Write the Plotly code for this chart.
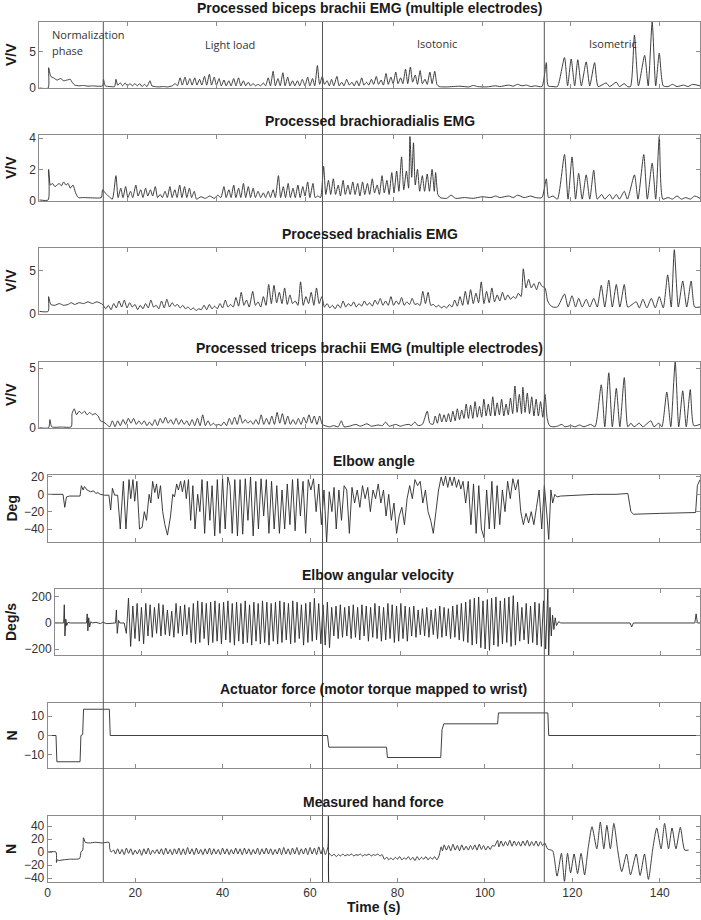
import plotly.graph_objects as go

W, H = 701, 920

# ---- data (time in s, value) ----
biceps_t = [0, 2.0, 2.1, 2.6, 3.2, 4, 4.8, 5.5, 6.3, 7, 7.4, 8, 9, 10, 11, 12, 13, 14.3, 14.5, 14.9, 16, 17, 17.3, 17.7, 18.3, 18.8, 19.4, 19.9, 20.5, 21, 21.6, 22.1, 22.7, 23.2, 23.8, 24.3, 25, 25.4, 26, 27, 28, 29, 30, 30.7, 31.2, 31.8, 32.3, 32.9, 33.4, 34, 34.5, 35.1, 35.6, 36.2, 36.7, 37.3, 37.8, 38.4, 38.9, 39.5, 40, 40.6, 41.1, 41.7, 42.2, 42.8, 43.3, 43.9, 44.4, 45, 45.5, 46.1, 46.6, 47.2, 47.7, 48.3, 48.8, 49.4, 50, 50.6, 51.1, 51.7, 52.2, 52.8, 53.3, 53.9, 54.4, 55, 55.5, 56.1, 56.6, 57.2, 57.7, 58.3, 58.8, 59.4, 60, 60.6, 61.1, 61.7, 62.2, 62.8, 63.3, 63.9, 64.4, 65, 65.5, 66, 66.5, 67.2, 67.7, 68.3, 68.8, 69.4, 70, 70.6, 71.1, 71.7, 72.2, 72.8, 73.3, 73.9, 74.4, 75, 75.5, 76.1, 76.6, 77.2, 77.7, 78.3, 78.8, 79.4, 79.9, 80.5, 81, 81.6, 82.1, 82.7, 83.2, 83.8, 84.3, 84.9, 85.4, 86, 86.5, 87.1, 87.6, 88.2, 88.7, 89.3, 89.8, 90.3, 92, 95, 97, 98, 99, 101, 103, 104, 106, 107, 108, 109, 110, 111, 112, 113.5, 114.5, 114.9, 116, 117, 118.6, 119.3, 120.1, 120.9, 121.6, 122.4, 123.5, 124.3, 125.4, 126.2, 128, 128.8, 130.3, 131, 132.1, 132.8, 133.5, 134.4, 135.3, 136.7, 137.5, 138.4, 139.2, 140.0, 140.9, 142, 143, 144, 145.5, 146.5, 147.5, 149.2]
biceps_v = [0, 0, 2.8, 1.6, 1.4, 1.1, 1.3, 1.0, 1.1, 1.2, 0.8, 0.4, 0.3, 0.35, 0.25, 0.3, 0.25, 0.3, 1.2, 0.3, 0.2, 0.2, 1.2, 0.4, 0.7, 0.3, 0.7, 0.3, 0.6, 0.3, 0.6, 0.3, 0.6, 0.2, 0.5, 0.2, 1.0, 0.3, 0.2, 0.15, 0.2, 0.15, 0.3, 0.6, 0.3, 1.4, 0.4, 1.5, 0.4, 1.3, 0.4, 1.4, 0.4, 1.2, 0.4, 1.6, 0.4, 1.9, 0.4, 1.5, 0.4, 1.3, 0.3, 1.1, 0.3, 1.0, 0.3, 1.3, 0.3, 1.4, 0.3, 1.0, 0.3, 0.8, 0.3, 0.6, 0.3, 0.5, 0.3, 0.7, 0.3, 1.4, 0.3, 2.3, 0.3, 1.3, 0.3, 2.1, 0.3, 1.5, 0.3, 1.0, 0.3, 1.0, 0.3, 1.2, 0.3, 1.5, 0.3, 1.3, 0.3, 3.1, 0.5, 1.6, 0.5, 1.0, 0.3, 1.2, 0.3, 1.6, 0.3, 0.8, 0.3, 1.2, 0.4, 0.8, 0.3, 1.0, 0.3, 1.4, 0.4, 0.8, 0.4, 1.2, 0.5, 1.6, 0.5, 1.1, 0.4, 2.0, 0.5, 1.5, 0.6, 2.2, 0.6, 1.4, 0.6, 2.6, 0.6, 2.9, 0.8, 1.8, 0.5, 2.4, 0.6, 1.2, 0.5, 2.2, 0.6, 2.3, 0.5, 0.2, 0.15, 0.25, 0.15, 0.35, 0.2, 0.15, 0.3, 0.2, 0.4, 0.25, 0.5, 0.3, 0.4, 0.2, 0.3, 0.2, 3.5, 0.3, 0.2, 0.2, 4.2, 0.3, 4.0, 0.3, 3.9, 0.3, 3.6, 0.3, 3.5, 0.2, 0.7, 0.2, 0.8, 0.2, 0.6, 0.2, 0.2, 7.3, 0.3, 4.5, 0.3, 9.1, 0.3, 4.8, 0.3, 0.2, 0.5, 0.2, 0.4, 0.2, 0.5, 0.3]

brachiorad_t = [0, 2.0, 2.1, 2.5, 3, 3.5, 4, 4.5, 5, 5.5, 6, 6.5, 7, 7.6, 8.2, 8.8, 10, 12, 14, 14.3, 15, 15.8, 16.5, 17.3, 17.8, 18.4, 18.9, 19.5, 20, 20.6, 21.1, 21.8, 22.3, 22.9, 23.4, 24, 24.5, 25.1, 25.6, 26.2, 26.7, 27.3, 27.8, 28.4, 28.9, 29.5, 30, 30.6, 31.1, 31.7, 32.2, 32.8, 33.3, 33.9, 34.4, 35, 35.5, 36.5, 37.5, 38.5, 39.5, 40.3, 41, 41.7, 42.2, 42.8, 43.3, 43.9, 44.4, 45, 45.5, 46.1, 46.6, 47.2, 47.7, 48.3, 48.8, 49.4, 50, 50.6, 51.1, 51.7, 52.2, 52.8, 53.3, 54, 54.5, 55.1, 55.6, 56.2, 56.7, 57.3, 57.8, 58.4, 58.9, 59.5, 60, 60.6, 61.1, 61.8, 62.3, 62.9, 63.5, 64.2, 64.7, 65.3, 65.8, 66.4, 66.9, 67.5, 68, 68.6, 69.1, 69.7, 70.2, 70.8, 71.3, 71.9, 72.4, 73, 73.5, 74.1, 74.6, 75.2, 75.7, 76.3, 76.8, 77.4, 77.9, 78.5, 79, 79.6, 80.1, 80.7, 81.2, 81.8, 82.3, 82.9, 83.4, 83.7, 84.1, 84.5, 84.9, 85.4, 85.9, 86.5, 87, 87.6, 88.1, 88.7, 89.2, 89.5, 90, 90.5, 92, 93, 94, 96, 98, 100, 102, 103, 104, 106, 107, 108, 109.5, 111, 112, 113.5, 114.5, 115, 116, 117, 118.6, 119.4, 120.3, 121.1, 121.8, 122.6, 123.5, 124.3, 125.2, 126, 127, 127.7, 128.8, 129.5, 130.3, 131, 132.1, 132.8, 134.4, 135.2, 136.5, 137.3, 138.4, 139.2, 140, 140.8, 142, 143, 144, 145, 146, 147, 148, 149.2]
brachiorad_v = [0.05, 0.05, 2.0, 1.0, 1.1, 0.9, 1.0, 1.1, 0.95, 1.2, 1.0, 1.1, 0.8, 1.0, 0.5, 0.2, 0.2, 0.18, 0.2, 0.7, 0.45, 0.25, 0.1, 1.6, 0.2, 0.8, 0.2, 0.9, 0.2, 0.6, 0.2, 1.0, 0.3, 0.7, 0.2, 0.8, 0.3, 0.7, 0.3, 0.9, 0.2, 0.4, 0.2, 0.6, 0.2, 0.9, 0.2, 0.7, 0.2, 1.0, 0.2, 0.9, 0.2, 0.8, 0.2, 0.6, 0.1, 0.25, 0.15, 0.3, 0.15, 0.35, 0.2, 0.9, 0.2, 0.7, 0.2, 1.0, 0.2, 0.8, 0.2, 1.1, 0.2, 0.9, 0.2, 0.8, 0.2, 0.6, 0.2, 0.5, 0.2, 0.6, 0.2, 0.7, 0.2, 1.6, 0.2, 0.9, 0.2, 1.1, 0.2, 0.8, 0.2, 1.0, 0.2, 0.9, 0.3, 1.2, 0.2, 1.1, 0.2, 0.3, 0.2, 2.2, 0.4, 1.3, 0.4, 1.4, 0.4, 1.0, 0.3, 1.3, 0.4, 1.0, 0.4, 1.2, 0.4, 1.1, 0.3, 1.2, 0.4, 1.1, 0.4, 1.4, 0.5, 1.0, 0.4, 1.6, 0.5, 1.3, 0.4, 1.8, 0.5, 1.9, 0.6, 2.8, 0.7, 1.9, 0.8, 4.1, 1.5, 3.7, 1.0, 2.0, 0.6, 1.6, 0.6, 1.7, 0.6, 2.0, 0.6, 1.8, 0.4, 0.2, 0.15, 0.35, 0.15, 0.2, 0.15, 0.25, 0.2, 0.3, 0.2, 0.3, 0.2, 0.35, 0.2, 0.3, 0.2, 0.2, 1.4, 0.2, 0.3, 0.1, 2.95, 0.1, 2.8, 0.1, 1.75, 0.1, 1.65, 0.1, 1.95, 0.1, 0.4, 0.1, 0.4, 0.1, 0.4, 0.1, 0.6, 0.1, 1.65, 0.1, 2.95, 0.1, 2.4, 0.1, 4.1, 0.1, 0.2, 0.1, 0.3, 0.1, 0.2, 0.1, 0.3, 0.15]

brachialis_t = [0, 2.0, 2.1, 2.6, 3.5, 4.5, 5.5, 6.5, 7.2, 8, 9, 10, 11, 12, 13, 14.3, 15, 15.6, 16.2, 16.8, 17.4, 18, 18.6, 19.2, 19.8, 20.4, 21, 21.6, 22.2, 22.8, 23.4, 24, 24.6, 25.2, 25.8, 26.4, 27, 27.6, 28.2, 28.8, 29.4, 30, 30.6, 31.2, 31.8, 32.4, 33, 33.6, 34.2, 34.8, 35.4, 36, 36.6, 37.2, 37.8, 38.4, 39, 39.6, 40.2, 40.8, 41.4, 42, 42.6, 43.2, 43.8, 44.4, 45, 45.6, 46.2, 46.8, 47.4, 48.2, 48.8, 49.4, 50, 50.6, 51.2, 51.8, 52.4, 53, 53.6, 54.2, 54.8, 55.4, 56, 56.6, 57.2, 57.8, 58.4, 59, 59.6, 60.2, 60.8, 61.4, 62, 62.6, 63.2, 63.8, 64.4, 65, 65.6, 66.2, 66.8, 67.4, 68, 68.6, 69.2, 69.8, 70.4, 71, 71.6, 72.2, 72.8, 73.4, 74, 74.6, 75.2, 75.8, 76.4, 77, 77.6, 78.2, 78.8, 79.4, 80, 80.6, 81.2, 81.8, 82.4, 83, 83.6, 84.2, 84.8, 85.4, 86, 86.6, 87.2, 87.8, 88.4, 89, 89.6, 90.2, 90.8, 91.4, 92, 92.6, 93.2, 93.8, 94.4, 95, 95.6, 96.2, 96.8, 97.4, 98, 98.6, 99.2, 99.8, 100.4, 101, 101.6, 102.2, 102.8, 103.4, 104, 104.6, 105.2, 105.8, 106.4, 107, 107.6, 108.2, 108.8, 109.3, 109.9, 110.5, 111.1, 111.7, 112.3, 112.9, 113.5, 114.2, 114.8, 115.4, 116, 117, 118.6, 119.4, 120.3, 121.1, 121.8, 122.6, 123.5, 124.3, 125.2, 126, 126.9, 127.7, 128.6, 129.4, 130.3, 131.1, 132.1, 132.9, 134.8, 135.5, 136.3, 137.2, 138.2, 139.1, 140, 140.9, 141.9, 142.7, 143.4, 144.3, 145.3, 146.2, 147.2, 148, 149.2]
brachialis_v = [0.3, 0.3, 2.0, 1.1, 1.0, 1.2, 1.0, 1.1, 1.3, 1.1, 1.3, 1.2, 1.4, 1.2, 1.4, 1.1, 0.6, 1.0, 0.5, 1.2, 0.7, 1.5, 0.8, 1.6, 0.7, 1.3, 0.8, 1.1, 0.5, 1.0, 0.6, 1.2, 0.7, 1.6, 0.8, 1.0, 0.6, 1.5, 0.7, 1.7, 0.8, 1.3, 0.9, 1.1, 0.7, 1.0, 0.6, 0.8, 0.5, 0.7, 0.4, 0.6, 0.5, 1.0, 0.5, 1.1, 0.6, 0.9, 0.6, 1.2, 0.7, 1.6, 0.8, 1.1, 0.8, 1.9, 0.9, 2.5, 1.0, 1.6, 0.8, 2.6, 1.0, 1.4, 0.8, 2.0, 1.0, 3.4, 1.2, 3.3, 1.3, 2.5, 1.2, 3.0, 1.1, 2.2, 1.2, 1.5, 1.0, 3.7, 1.0, 2.0, 1.2, 2.5, 1.0, 3.0, 1.2, 2.0, 0.8, 1.2, 0.7, 1.0, 0.6, 1.1, 0.7, 1.5, 0.8, 1.2, 0.9, 1.4, 0.8, 1.2, 0.9, 1.5, 1.0, 1.3, 0.9, 1.6, 1.1, 1.8, 1.0, 1.5, 1.0, 2.0, 1.0, 1.5, 1.1, 1.9, 1.0, 1.4, 1.1, 1.8, 1.1, 1.2, 1.0, 2.6, 1.2, 2.5, 1.0, 1.1, 0.8, 1.0, 0.7, 0.9, 0.7, 1.1, 0.8, 1.6, 0.9, 2.0, 1.0, 2.6, 1.1, 2.8, 1.2, 2.4, 1.3, 3.7, 1.2, 2.6, 1.3, 3.0, 1.4, 2.2, 1.5, 2.5, 1.6, 2.2, 1.7, 2.0, 1.8, 2.4, 2.0, 5.2, 3.0, 4.0, 3.0, 3.5, 2.8, 3.7, 3.2, 3.0, 1.5, 1.0, 0.8, 0.8, 2.3, 0.8, 2.1, 0.8, 1.8, 0.8, 1.7, 0.8, 1.8, 0.8, 3.3, 0.8, 3.9, 0.8, 3.4, 0.8, 3.4, 0.8, 1.4, 0.7, 1.7, 0.7, 1.8, 0.7, 2.0, 0.7, 4.5, 0.8, 7.4, 0.8, 3.8, 0.8, 3.8, 0.8, 0.8]

triceps_t = [0, 2.1, 2.4, 2.8, 5, 7.2, 7.4, 7.9, 8.4, 9, 9.6, 10.2, 10.8, 11.4, 12, 12.6, 13.3, 13.8, 14.5, 15.2, 15.9, 16.5, 17.1, 17.7, 18.3, 18.9, 19.5, 20.1, 20.7, 21.3, 21.9, 22.5, 23.1, 23.7, 24.3, 24.9, 25.5, 26.1, 26.7, 27.3, 27.9, 28.5, 29.1, 29.7, 30.3, 30.9, 31.5, 32.1, 32.7, 33.3, 33.9, 34.5, 35.1, 35.7, 36.3, 36.9, 37.5, 38.1, 38.7, 39.3, 39.9, 40.5, 41.1, 41.7, 42.3, 42.9, 43.5, 44.1, 44.7, 45.3, 45.9, 46.5, 47.1, 47.7, 48.3, 48.9, 49.5, 50.1, 50.7, 51.3, 51.9, 52.5, 53.1, 53.7, 54.3, 54.9, 55.5, 56.1, 56.7, 57.3, 57.9, 58.5, 59.1, 59.7, 60.3, 60.9, 61.5, 62.1, 62.7, 63.3, 63.9, 64.5, 65.5, 66.5, 67.5, 68.2, 68.8, 70, 71.5, 72.5, 74, 75, 76.5, 77.5, 78.2, 79, 80.5, 81.5, 82.5, 83.5, 84, 84.8, 85.5, 86.5, 87.6, 88.2, 88.9, 89.4, 89.9, 90.4, 90.9, 91.4, 91.9, 92.4, 92.9, 93.4, 93.9, 94.4, 94.9, 95.4, 95.9, 96.4, 96.9, 97.4, 97.9, 98.4, 98.9, 99.4, 99.9, 100.4, 100.9, 101.4, 101.9, 102.4, 102.9, 103.4, 103.9, 104.4, 104.9, 105.4, 105.9, 106.4, 106.9, 107.4, 107.9, 108.4, 108.9, 109.2, 109.7, 110.2, 110.7, 111.2, 111.7, 112.2, 112.7, 113.2, 113.7, 114.2, 114.7, 115.2, 116, 117, 118, 118.7, 120, 121, 122, 123, 124.5, 125.5, 126.9, 127.7, 128.6, 129.4, 130.3, 131.1, 132.1, 132.9, 133.6, 134.3, 135.5, 136.3, 138.1, 138.8, 139.9, 140.6, 141.7, 142.6, 143.6, 144.4, 145.3, 146.1, 147, 147.8, 149.2]
triceps_v = [0.02, 0.02, 0.7, 0.1, 0.08, 0.1, 1.2, 1.6, 1.1, 1.4, 1.2, 1.4, 1.1, 1.3, 1.1, 1.2, 1.0, 0.6, 0.5, 0.3, 0.1, 0.6, 0.1, 0.6, 0.2, 0.7, 0.3, 0.8, 0.4, 0.8, 0.3, 0.6, 0.3, 0.6, 0.2, 0.5, 0.2, 0.7, 0.2, 0.8, 0.4, 0.9, 0.4, 0.7, 0.3, 0.8, 0.3, 0.7, 0.3, 0.6, 0.2, 0.7, 0.2, 0.8, 0.2, 1.1, 0.2, 0.6, 0.2, 0.4, 0.2, 0.3, 0.2, 0.5, 0.2, 0.8, 0.3, 0.9, 0.3, 1.1, 0.4, 0.7, 0.4, 0.6, 0.3, 0.7, 0.3, 1.1, 0.3, 0.8, 0.3, 1.0, 0.3, 1.3, 0.4, 1.2, 0.3, 1.0, 0.3, 0.7, 0.3, 0.8, 0.3, 0.9, 0.4, 1.1, 0.4, 1.0, 0.3, 1.0, 0.3, 0.2, 0.1, 0.2, 0.1, 0.6, 0.1, 0.15, 0.3, 0.15, 0.35, 0.15, 0.25, 0.2, 0.5, 0.15, 0.3, 0.15, 0.25, 0.3, 0.2, 0.5, 0.2, 0.3, 1.4, 0.4, 0.3, 1.0, 0.4, 1.2, 0.5, 1.1, 0.5, 1.2, 0.5, 1.4, 0.6, 1.6, 0.7, 1.5, 0.8, 2.0, 0.8, 1.9, 0.8, 2.2, 0.9, 1.8, 0.9, 2.4, 1.0, 2.0, 1.0, 2.6, 1.0, 2.1, 1.1, 2.4, 1.0, 2.0, 1.1, 2.5, 1.2, 3.5, 1.3, 2.8, 1.2, 3.4, 1.3, 2.9, 1.2, 2.6, 1.0, 2.4, 1.0, 2.2, 0.9, 2.8, 0.8, 0.2, 0.1, 0.15, 0.3, 0.1, 0.2, 0.1, 0.25, 0.1, 0.3, 0.1, 3.6, 0.1, 4.6, 0.1, 3.3, 0.1, 4.2, 0.1, 0.4, 0.1, 0.4, 0.1, 0.6, 0.1, 0.4, 0.1, 3.0, 0.1, 5.5, 0.1, 3.1, 0.1, 3.2, 0.2, 0.3]

angle_t = [0, 3.5, 3.9, 4.3, 5, 7.4, 7.7, 8.1, 8.4, 9, 9.8, 10.5, 11, 11.5, 12, 13, 14, 14.4, 14.8, 15.3, 16, 16.6, 17.3, 17.9, 18.6, 19.0, 19.5, 19.9, 20.4, 21.0, 21.6, 22.1, 22.6, 23.2, 23.6, 24.0, 24.5, 24.9, 25.3, 25.8, 26.3, 26.8, 27.4, 28.1, 28.6, 29.0, 29.5, 29.9, 30.4, 30.8, 31.3, 31.7, 32.2, 32.7, 33.2, 33.7, 34.3, 34.8, 35.3, 35.9, 36.5, 37.1, 37.6, 38.2, 38.8, 39.4, 40, 40.6, 41.2, 41.7, 42.2, 42.8, 43.4, 44, 44.6, 45.2, 45.8, 46.4, 47, 47.6, 48.2, 48.8, 49.4, 50, 50.6, 51.2, 51.8, 52.4, 53, 53.6, 54.2, 54.8, 55.4, 56, 56.6, 57.2, 57.8, 58.4, 59, 59.6, 60.2, 60.8, 61.4, 62, 62.6, 63.2, 63.8, 64.4, 65, 65.5, 66, 66.6, 67.2, 67.8, 68.4, 69, 69.6, 70.2, 70.8, 71.4, 72, 72.6, 73.2, 73.8, 74.4, 75, 75.6, 76.2, 76.8, 77.4, 78, 78.6, 79.2, 79.8, 80.4, 81, 81.6, 82.2, 82.8, 83.4, 84, 84.6, 85.2, 85.8, 86.4, 87, 87.6, 88.2, 88.8, 89.4, 90, 90.5, 91, 91.5, 92, 92.5, 93, 93.5, 94, 94.5, 95, 95.6, 96.2, 96.8, 97.4, 98, 98.6, 99.2, 99.8, 100.4, 101, 101.6, 102.2, 102.8, 103.4, 104, 104.6, 105.2, 105.8, 106.4, 107, 107.6, 108.2, 108.8, 109.4, 110, 110.6, 111.2, 111.8, 112.4, 113, 113.6, 114.2, 114.6, 115.1, 115.5, 116, 116.5, 117.3, 120, 125, 130, 132.7, 133.4, 134, 140, 145, 148.2, 148.6, 149.2]
angle_v = [0, 0, -15, -3, -2, -2, 10, 5, 9, 5, 3, 4, 1, 2, 0, -1, -1, -18, 7, -1, -1, -40, 15, -40, 17, -5, 17, -8, 15, -40, -38, -20, -30, 0, -10, 15, 2, 12, -5, 10, -20, -35, -47, -25, 0, -3, 12, 5, 15, 3, 16, -5, 17, -30, 10, -40, 0, -20, 17, -45, 15, -30, 10, -48, 17, -45, 18, -40, 20, 10, -45, 17, -48, 17, -46, 18, -30, 20, -48, 15, -40, 18, -25, 17, -45, 15, -40, 10, -45, 5, -40, 12, -35, 17, -42, 18, -25, 15, -45, 17, 5, 18, -20, 12, -35, 5, -55, 3, -20, 8, -40, 5, -30, 10, 5, -45, 8, -10, 5, -15, 10, -5, 8, -20, 5, -5, 12, -10, 5, -25, 0, -30, -10, -45, -25, -15, -35, -5, 10, -5, 17, 10, 15, -10, 5, -20, -30, -45, -20, 5, 20, 10, 21, 8, 20, 10, 20, 8, 17, 6, 15, -10, 15, -35, 12, -45, 10, -40, -50, 5, -40, 15, -40, 10, -35, 5, -20, 15, -5, 18, 5, 17, -20, -35, -22, -33, -20, -35, -15, 5, -40, 10, -25, -52, 5, -10, 0, -3, -2, -1, 0, 0, 1, -20, -23, -22, -21, -21, 10, 17]

velocity_t = [0, 2.0, 2.15, 2.3, 2.5, 2.7, 3, 3.5, 7.3, 7.45, 7.6, 7.8, 8, 8.3, 8.6, 9.5, 10.5, 11, 12, 13, 14.0, 14.2, 14.4, 14.7, 15, 16, 16.5, 17, 17.5, 18, 18.5, 19, 19.5, 20, 20.5, 21, 21.5, 22, 22.5, 23, 23.5, 24, 24.5, 25, 25.5, 26, 26.5, 27, 27.5, 28, 28.5, 29, 29.5, 30, 30.5, 31, 31.5, 32, 32.5, 33, 33.5, 34, 34.5, 35, 35.5, 36, 36.5, 37, 37.5, 38, 38.5, 39, 39.5, 40, 40.5, 41, 41.5, 42, 42.5, 43, 43.5, 44, 44.5, 45, 45.5, 46, 46.5, 47, 47.5, 48, 48.5, 49, 49.5, 50, 50.5, 51, 51.5, 52, 52.5, 53, 53.5, 54, 54.5, 55, 55.5, 56, 56.5, 57, 57.5, 58, 58.5, 59, 59.5, 60, 60.5, 61, 61.5, 62, 62.5, 63, 63.5, 64, 64.5, 65, 65.5, 66, 66.5, 67, 67.5, 68, 68.5, 69, 69.5, 70, 70.5, 71, 71.5, 72, 72.5, 73, 73.5, 74, 74.5, 75, 75.5, 76, 76.5, 77, 77.5, 78, 78.5, 79, 79.5, 80, 80.5, 81, 81.5, 82, 82.5, 83, 83.5, 84, 84.5, 85, 85.5, 86, 86.5, 87, 87.5, 88, 88.5, 89, 89.5, 90, 90.5, 91, 91.5, 92, 92.5, 93, 93.5, 94, 94.5, 95, 95.5, 96, 96.5, 97, 97.5, 98, 98.5, 99, 99.5, 100, 100.5, 101, 101.5, 102, 102.5, 103, 103.5, 104, 104.5, 105, 105.5, 106, 106.5, 107, 107.5, 108, 108.5, 109, 109.5, 110, 110.5, 111, 111.5, 112, 112.5, 113, 113.5, 114.0, 114.2, 114.5, 114.8, 115.1, 115.4, 115.7, 116, 116.5, 117, 133, 133.4, 133.8, 148, 148.3, 148.6, 149.2]
velocity_v = [0, 0, 140, -100, 30, -20, 5, 0, 0, 70, -60, 40, -30, 10, 0, 5, -5, 5, -5, 0, 0, 100, -80, 20, 0, 0, -80, 190, -180, 130, -120, 150, -140, 120, -160, 150, -100, 140, -110, 120, -80, 150, -100, 140, -90, 100, -100, 90, -110, 150, -80, 130, -100, 140, -90, 120, -150, 150, -160, 170, -150, 160, -120, 150, -170, 160, -150, 170, -140, 150, -160, 160, -130, 170, -150, 150, -170, 160, -140, 150, -160, 170, -150, 140, -170, 160, -140, 150, -160, 170, -150, 160, -170, 150, -140, 160, -160, 170, -150, 160, -130, 150, -160, 170, -150, 160, -120, 140, -170, 150, -150, 160, -140, 190, -130, 150, -160, 140, -170, 160, -190, 120, -100, 130, -120, 140, -110, 120, -100, 130, -120, 140, -110, 120, -130, 140, -100, 130, -140, 120, -110, 150, -120, 130, -140, 120, -130, 150, -120, 140, -150, 130, -140, 150, -120, 130, -140, 120, -100, 130, -110, 100, -90, 110, -100, 120, -110, 100, -90, 110, -120, 130, -110, 120, -100, 110, -120, 130, -110, 140, -130, 150, -140, 160, -150, 180, -170, 190, -160, 200, -190, 170, -200, 180, -210, 190, -170, 200, -180, 170, -160, 190, -150, 200, -180, 210, -170, 160, -140, 120, -130, 150, -160, 130, -150, 160, -170, 150, -180, 170, -200, 260, -250, 120, -100, 60, -50, 40, -20, 10, 0, 0, -30, 0, 0, 70, 0, 0]

actuator_t = [0, 1.9, 2.1, 7.4, 7.6, 8.0, 8.2, 14.1, 14.3, 64.0, 64.3, 77.5, 77.7, 89.9, 90.2, 90.6, 102.9, 103.1, 114.4, 114.6, 149.2]
actuator_v = [0, 0, -13.5, -13.5, 0, 0.5, 13.5, 13.5, 0, 0, -6, -6, -11.3, -11.3, 3, 6, 6, 11.6, 11.6, 0, 0]

handforce_t = [0, 1.9, 2.0, 2.2, 2.6, 3.5, 5, 7.3, 7.6, 8.0, 8.2, 8.6, 9.5, 11, 12.5, 14.0, 14.2, 14.5, 15.1, 15.5, 16, 16.5, 17, 17.5, 18, 18.5, 19, 19.5, 20, 20.5, 21, 21.5, 22, 22.5, 23, 23.5, 24, 24.5, 25, 25.5, 26, 26.5, 27, 27.5, 28, 28.5, 29, 29.5, 30, 30.5, 31, 31.5, 32, 32.5, 33, 33.5, 34, 34.5, 35, 35.5, 36, 36.5, 37, 37.5, 38, 38.5, 39, 39.5, 40, 40.5, 41, 41.5, 42, 42.5, 43, 43.5, 44, 44.5, 45, 45.5, 46, 46.5, 47, 47.5, 48, 48.5, 49, 49.5, 50, 50.5, 51, 51.5, 52, 52.5, 53, 53.5, 54, 54.5, 55, 55.5, 56, 56.5, 57, 57.5, 58, 58.5, 59, 59.5, 60, 60.5, 61, 61.5, 62, 62.5, 63, 63.5, 64.1, 64.2, 64.25, 64.35, 65, 65.5, 66, 66.5, 67, 67.5, 68, 68.5, 69, 69.5, 70, 70.5, 71, 71.5, 72, 72.5, 73, 73.5, 74, 74.5, 75, 75.5, 76, 76.5, 77, 77.6, 78, 78.5, 79, 79.5, 80, 80.5, 81, 81.5, 82, 82.5, 83, 83.5, 84, 84.5, 85, 85.5, 86, 86.5, 87, 87.5, 88, 88.5, 89, 89.5, 90.0, 90.3, 90.7, 91.2, 91.7, 92.2, 92.7, 93.2, 93.7, 94.2, 94.7, 95.2, 95.7, 96.2, 96.7, 97.2, 97.7, 98.2, 98.7, 99.2, 99.7, 100.2, 100.7, 101.2, 101.7, 102.2, 102.9, 103.2, 103.7, 104.2, 104.7, 105.2, 105.7, 106.2, 106.7, 107.2, 107.7, 108.2, 108.7, 109.2, 109.7, 110.2, 110.7, 111.2, 111.7, 112.2, 112.7, 113.2, 113.7, 114.3, 114.6, 115.5, 116.5, 117.5, 118.2, 118.9, 119.6, 120.4, 121.2, 122, 122.8, 123.6, 124.5, 125.6, 126.4, 127.2, 127.9, 128.7, 129.5, 130.4, 131.3, 132.4, 133.3, 134.6, 135.5, 136.5, 137.4, 138.4, 139.3, 140.3, 141.1, 142, 142.8, 143.7, 144.7, 145.7, 146.6, 147.6, 148.4, 149.2]
handforce_v = [0, 0, -16, -12, -13, -12, -11, -10, 0, 3, 22, 15, 14, 15, 14, 15, 5, 0, 3, -3, 5, -3, 4, -4, 6, -2, 5, -4, 3, -3, 4, -5, 5, -3, 6, -4, 3, -2, 4, -3, 5, -4, 6, -3, 4, -4, 5, -3, 6, -4, 5, -4, 7, -3, 5, -4, 6, -3, 4, -4, 5, -3, 6, -4, 5, -3, 4, -4, 6, -3, 5, -4, 4, -3, 6, -3, 5, -4, 6, -3, 5, -4, 4, -3, 6, -4, 5, -3, 6, -3, 5, -4, 4, -3, 6, -4, 7, -3, 5, -4, 6, -3, 7, -4, 5, -3, 6, -4, 7, -3, 6, -4, 8, -3, 7, -4, 8, 55, -46, -2, -6, -3, -7, -4, -6, -3, -6, -4, -5, -3, -6, -4, -5, -3, -6, -4, -5, -3, -6, -4, -5, -3, -6, -4, -11, -8, -12, -9, -12, -8, -11, -7, -12, -9, -11, -7, -12, -8, -13, -7, -12, -8, -11, -7, -12, -8, -11, -7, -12, -6, 8, 2, 11, 3, 10, 2, 12, 3, 10, 2, 11, 3, 9, 3, 10, 4, 11, 3, 12, 4, 10, 3, 9, 4, 10, 9, 18, 8, 17, 9, 16, 10, 18, 9, 17, 10, 16, 9, 17, 10, 18, 9, 16, 10, 17, 9, 16, 10, 14, 5, 4, 2, -37, -2, -45, -2, -32, -3, -33, -2, -35, 5, 39, 5, 46, 5, 41, 5, 44, 2, -30, -3, -35, -3, -36, -3, -42, 5, 37, 5, 44, 5, 37, 5, 38, 3, 3]

# panel layout: (left px, top px, bottom px)
boxes = [(39.3, 22, 88), (39.3, 135, 201), (39.3, 248, 314), (39.3, 362, 428),
         (47.7, 475, 542), (55, 589, 655), (47.7, 703, 768), (47.7, 816, 882)]
right_px = 700

# title, y label, t, v, y range, y ticks, smoothed line?
panels = [
    ("Processed biceps brachii EMG (multiple electrodes)", "V/V", biceps_t, biceps_v, [0, 9.1], [0, 5], True),
    ("Processed brachioradialis EMG", "V/V", brachiorad_t, brachiorad_v, [-0.02, 4.2], [0, 2, 4], True),
    ("Processed brachialis EMG", "V/V", brachialis_t, brachialis_v, [0, 7.6], [0, 5], True),
    ("Processed triceps brachii EMG (multiple electrodes)", "V/V", triceps_t, triceps_v, [0, 5.5], [0, 5], True),
    ("Elbow angle", "Deg", angle_t, angle_v, [-55, 22.3], [-40, -20, 0, 20], False),
    ("Elbow angular velocity", "Deg/s", velocity_t, velocity_v, [-246, 261], [-200, 0, 200], False),
    ("Actuator force (motor torque mapped to wrist)", "N", actuator_t, actuator_v, [-16.7, 16.7], [-10, 0, 10], False),
    ("Measured hand force", "N", handforce_t, handforce_v, [-46, 55.4], [-40, -20, 0, 20, 40], True),
]

phase_lines_px = [103.3, 322.5, 544.3]

FONT = "Liberation Sans, Arial, sans-serif"
FRAME = "#8c8c8c"
INK = "#2a2a2a"


def px_x(x):
    return x / W


def px_y(y):
    return 1 - y / H


fig = go.Figure()
annotations = []
layout = dict()

for i, (title, ylab, t, v, yr, yt, smooth) in enumerate(panels):
    n = i + 1
    sfx = "" if n == 1 else str(n)
    left, top, bot = boxes[i]
    line = dict(color=INK, width=0.9)
    if smooth:
        line.update(shape="spline", smoothing=0.6)
    fig.add_trace(go.Scatter(x=t, y=v, mode="lines", xaxis="x" + sfx, yaxis="y" + sfx,
                             line=line, showlegend=False, hoverinfo="skip"))
    layout["xaxis" + sfx] = dict(
        domain=[px_x(left), px_x(right_px)], anchor="y" + sfx, range=[0, 149.2],
        tickvals=[0, 20, 40, 60, 80, 100, 120, 140], ticks="inside", ticklen=4,
        tickcolor=FRAME, showline=True, linecolor=FRAME, linewidth=1, mirror="ticks",
        showgrid=False, zeroline=False, showticklabels=(n == 8), automargin=False,
        tickfont=dict(family=FONT, size=12, color="#333"),
    )
    layout["yaxis" + sfx] = dict(
        domain=[px_y(bot), px_y(top)], anchor="x" + sfx, range=yr, tickvals=yt,
        ticks="inside", ticklen=4, tickcolor=FRAME, showline=True, linecolor=FRAME,
        linewidth=1, mirror="ticks", showgrid=False, zeroline=False, automargin=False,
        tickfont=dict(family=FONT, size=12, color="#333"),
    )
    annotations.append(dict(text="<b>%s</b>" % title, xref="paper", yref="paper",
                            x=px_x((left + right_px) / 2), y=px_y(top - 14), showarrow=False,
                            font=dict(family=FONT, size=14, color="#1a1a1a"),
                            xanchor="center", yanchor="middle"))
    annotations.append(dict(text="<b>%s</b>" % ylab, xref="paper", yref="paper",
                            x=px_x(11), y=px_y((top + bot) / 2), showarrow=False, textangle=-90,
                            font=dict(family=FONT, size=14, color="#1a1a1a"),
                            xanchor="center", yanchor="middle"))

annotations.append(dict(text="<b>Time (s)</b>", xref="paper", yref="paper", x=px_x(374), y=px_y(907),
                        showarrow=False, xanchor="center", yanchor="middle",
                        font=dict(family=FONT, size=14, color="#1a1a1a")))

phase_font = dict(family="Open Sans, sans-serif", size=11, color="#333")
for txt, xp, yp, anc in [("Normalization", 50, 34, "left"), ("phase", 50, 51, "left"),
                         ("Light load", 230, 45, "center"), ("Isotonic", 437, 44, "center"),
                         ("Isometric", 613, 44, "center")]:
    annotations.append(dict(text=txt, xref="paper", yref="paper", x=px_x(xp), y=px_y(yp),
                            showarrow=False, xanchor=anc, yanchor="middle", font=phase_font))

shapes = [dict(type="line", xref="paper", yref="paper", x0=px_x(xl), x1=px_x(xl),
               y0=px_y(22), y1=px_y(882), line=dict(color="#555", width=1), layer="above")
          for xl in phase_lines_px]

fig.update_layout(width=W, height=H,
                  margin=dict(l=0, r=0, t=0, b=0, pad=0, autoexpand=False),
                  paper_bgcolor="white", plot_bgcolor="white",
                  annotations=annotations, shapes=shapes, **layout)

# the page body has a default 8px margin; drop it so the figure sits at the window corner
fig.write_html("out.html", config={"displayModeBar": False},
               post_script="document.body.style.margin='0';")
